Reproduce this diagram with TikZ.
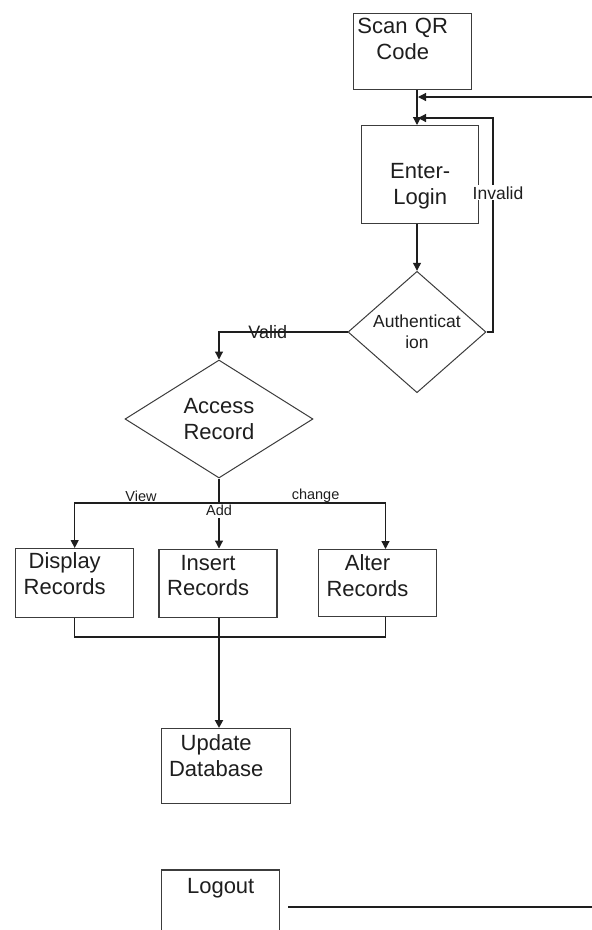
\documentclass[tikz,border=0pt]{standalone}
\usepackage{fontspec}
\setmainfont{Liberation Sans}
\usetikzlibrary{shapes.geometric, arrows.meta, positioning}
\definecolor{ink}{HTML}{1E1E1E}
\definecolor{frame}{HTML}{3C3C3C}
\tikzset{
    box/.style={rectangle, draw=frame, line width=1.4pt, fill=white, inner sep=0pt, align=center, anchor=north west, text=ink, font=\fontsize{22}{25.5}\selectfont},
    lefttext/.style={execute at begin node={\leftskip=0pt plus 1fil\rightskip=20pt plus 1fil\parfillskip=0pt\relax}},
    decision/.style={diamond, draw=frame, line width=1pt, fill=white, inner sep=0pt, align=center, text=ink},
    arrow/.style={-{Triangle[length=8pt, width=8pt]}, line width=1.2pt, color=ink},
    link/.style={line width=1.2pt, color=ink},
    tag/.style={inner sep=1pt, text=ink, font=\fontsize{14.5}{16}\selectfont}
}

\begin{document}
\begin{tikzpicture}[x=1pt, y=-1pt]
    \useasboundingbox (0,0) rectangle (592,930);
    \clip (0,0) rectangle (592,930);

    \node [box, lefttext, text width=118pt, text height=20pt, text depth=56pt] (scan) at (353,13) {Scan QR\\Code};
    \node [box, text width=117pt, text height=53pt, text depth=45pt] (enter) at (361,125) {Enter-\\Login};
    \node [decision, minimum width=138pt, minimum height=115pt, font=\fontsize{17.5}{21}\selectfont] (auth) at (417,332) {Authenticat\\ion};
    \node [decision, minimum width=188pt, minimum height=118pt, font=\fontsize{22}{26}\selectfont] (access) at (219,419) {Access\\Record};
    \node [box, lefttext, text width=118pt, text height=20pt, text depth=49pt] (display) at (15,548) {Display\\Records};
    \node [box, lefttext, text width=118pt, text height=21pt, text depth=47pt, right=24pt of display] (insert) {Insert\\Records};
    \node [box, lefttext, text width=118pt, text height=21pt, text depth=46pt, right=40pt of insert] (alter) {Alter\\Records};
    \node [box, lefttext, text width=129pt, text height=22pt, text depth=53pt] (update) at (161,728) {Update\\Database};
    \node [box, text width=118pt, text height=23pt, text depth=69pt, below=65pt of update.south west, anchor=north west] (logout) {Logout};

    \coordinate (join) at (417,97);
    \coordinate (back) at (592,97);
    \coordinate (retry) at (418,118);
    \coordinate (loop) at (493,118);
    \coordinate (split) at (219,503);
    \coordinate (merge) at (219,637);
    \coordinate (exit) at (592,907);

    \draw [arrow] (scan.south -| join) -- (enter.north -| join);
    \draw [arrow, shorten >=1pt] (back) -- (join);
    \draw [arrow] (enter.south -| join) -- (auth.north);
    \draw [arrow] (auth.east) -- (auth.east -| loop) -- node [tag, fill=white, pos=0.65, xshift=5pt, font=\fontsize{17.5}{19}\selectfont] {Invalid} (loop) -- (retry);
    \draw [arrow] (auth.west) -| node [tag, pos=0.31, font=\fontsize{18}{19}\selectfont] {Valid} (access.north);

    \draw [link, line width=2pt] (access.south) -- (split);
    \draw [arrow] (split) -- node [tag, pos=0, below, fill=white, inner ysep=3pt, yshift=2pt] {Add} (split |- insert.north);
    \draw [arrow] (split) -| node [tag, pos=0.27, above] {View} (display.north);
    \draw [arrow] (split) -| node [tag, pos=0.29, above, inner sep=0pt] {change} ([xshift=8pt]alter.north);

    \draw [link] (display.south) |- (merge) -| ([xshift=8pt]alter.south);
    \draw [link] (insert.south -| merge) -- (merge);
    \draw [arrow, line width=2pt] (merge) -- (merge |- update.north);

    \draw [link, shorten <=8pt] (logout.east |- exit) -- (exit);
\end{tikzpicture}
\end{document}
